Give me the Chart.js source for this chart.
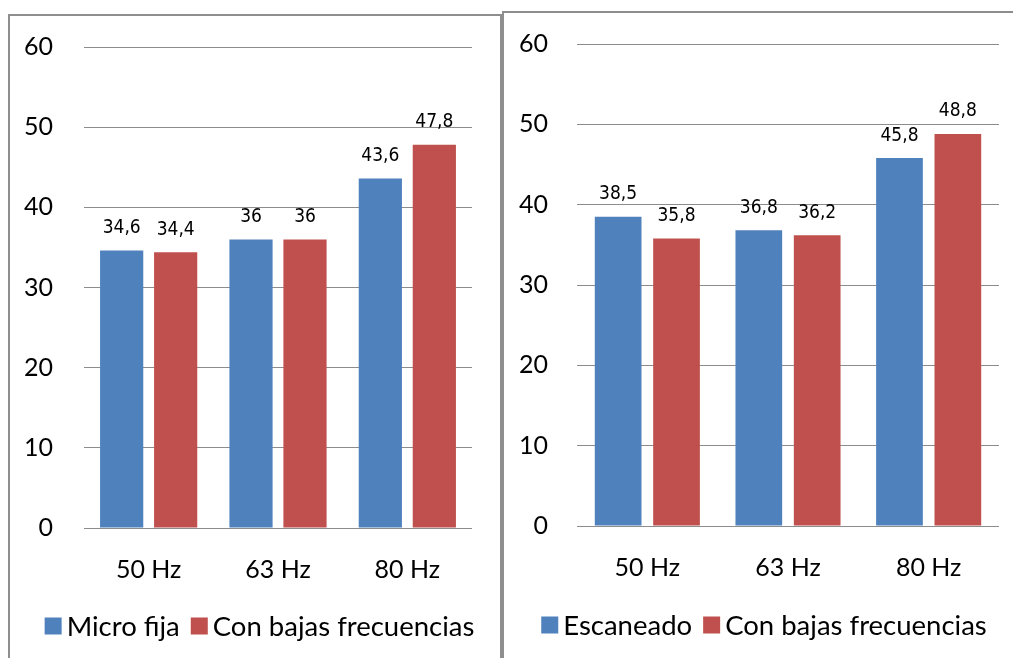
<!DOCTYPE html>
<html>
<head>
<meta charset="utf-8">
<script src="https://cdn.jsdelivr.net/npm/chart.js@4/dist/chart.umd.min.js"></script>
<style>
  html, body { margin:0; padding:0; background:#fff; width:1013px; height:658px; overflow:hidden; }
  .panel { position:absolute; border:2px solid #8e8e8e; border-bottom:none; box-sizing:border-box; }
  canvas { position:absolute; }
</style>
</head>
<body>
<div class="panel" style="left:8px; top:14px; width:494px; height:660px;"></div>
<div class="panel" style="left:502px; top:11px; width:520px; height:660px;"></div>
<canvas id="c1" width="490" height="657" style="left:10px; top:1px; width:490px; height:657px;"></canvas>
<canvas id="c2" width="509" height="658" style="left:504px; top:0px; width:509px; height:658px;"></canvas>
<script>
// ---- data ----
const categories = ['50 Hz', '63 Hz', '80 Hz'];
const leftSeriesNames = ['Micro fija', 'Con bajas frecuencias'];
const microFija = [34.6, 36, 43.6];
const leftBajas = [34.4, 36, 47.8];
const rightSeriesNames = ['Escaneado', 'Con bajas frecuencias'];
const escaneado = [38.5, 36.8, 45.8];
const rightBajas = [35.8, 36.2, 48.8];
const yMin = 0, yMax = 60, yStep = 10;

const BLUE = '#4F81BD', RED = '#C0504D';
const TICK_FONT = { family: 'Lato, "Open Sans", sans-serif', size: 25 };
const LABEL_FONT = '19px "DejaVu Sans Condensed", "DejaVu Sans", sans-serif';
const LEGEND_FONT = '27.5px Lato, "Open Sans", sans-serif';

const valueLabels = {
  id: 'valueLabels',
  afterDatasetsDraw(chart) {
    const ctx = chart.ctx;
    ctx.save();
    ctx.font = LABEL_FONT;
    ctx.fillStyle = '#000';
    ctx.textAlign = 'center';
    ctx.textBaseline = 'alphabetic';
    chart.data.datasets.forEach((ds, i) => {
      chart.getDatasetMeta(i).data.forEach((bar, j) => {
        const txt = String(ds.data[j]).replace('.', ',');
        ctx.fillText(txt, bar.x, bar.y - 17.5);
      });
    });
    ctx.restore();
  }
};

const customLegend = {
  id: 'customLegend',
  afterDraw(chart, args, opts) {
    const ctx = chart.ctx;
    ctx.save();
    ctx.font = LEGEND_FONT;
    ctx.textBaseline = 'middle';
    ctx.textAlign = 'left';
    const box = 17, gap = 5, spacing = 11;
    const items = chart.data.datasets.map(ds => ({ text: ds.label, color: ds.backgroundColor, w: ctx.measureText(ds.label).width }));
    let total = 0;
    items.forEach((it, i) => { total += box + gap + it.w + (i < items.length - 1 ? spacing : 0); });
    let x = opts.cx - total / 2;
    items.forEach(it => {
      ctx.fillStyle = it.color;
      ctx.fillRect(x, opts.cy - box / 2, box, box);
      ctx.fillStyle = '#000';
      ctx.fillText(it.text, x + box + gap, opts.cy + 1);
      x += box + gap + it.w + spacing;
    });
    ctx.restore();
  }
};

function makeChart(id, names, s1, s2, cfg) {
  return new Chart(document.getElementById(id), {
    type: 'bar',
    data: {
      labels: categories,
      datasets: [
        { label: names[0], data: s1, backgroundColor: BLUE, categoryPercentage: cfg.cat, barPercentage: 0.8 },
        { label: names[1], data: s2, backgroundColor: RED, categoryPercentage: cfg.cat, barPercentage: 0.8 }
      ]
    },
    options: {
      responsive: false,
      animation: false,
      layout: { padding: cfg.padding },
      plugins: {
        legend: { display: false },
        tooltip: { enabled: false },
        customLegend: { cx: cfg.legendX, cy: cfg.legendY }
      },
      scales: {
        x: {
          grid: { display: false, drawTicks: false },
          border: { display: false },
          ticks: { font: TICK_FONT, color: '#000', padding: cfg.xPad, maxRotation: 0 },
          afterFit(s) { s.height = 60; }
        },
        y: {
          min: yMin, max: yMax,
          grid: { color: '#8c8c8c', lineWidth: 1, drawTicks: false },
          border: { display: false },
          ticks: { stepSize: yStep, font: TICK_FONT, color: '#000', padding: cfg.yPad },
          afterFit(s) { s.width = cfg.yWidth; }
        }
      }
    },
    plugins: [valueLabels, customLegend]
  });
}

makeChart('c1', leftSeriesNames, microFija, leftBajas, {
  cat: 0.835, padding: { top: 15, right: 28, bottom: 70, left: 0 },
  yWidth: 74, yPad: 31, xPad: 27, legendX: 249.5, legendY: 625
});
makeChart('c2', rightSeriesNames, escaneado, rightBajas, {
  cat: 0.83, padding: { top: 14, right: 14, bottom: 72, left: 0 },
  yWidth: 73, yPad: 29, xPad: 27, legendX: 260, legendY: 625
});
</script>
</body>
</html>
